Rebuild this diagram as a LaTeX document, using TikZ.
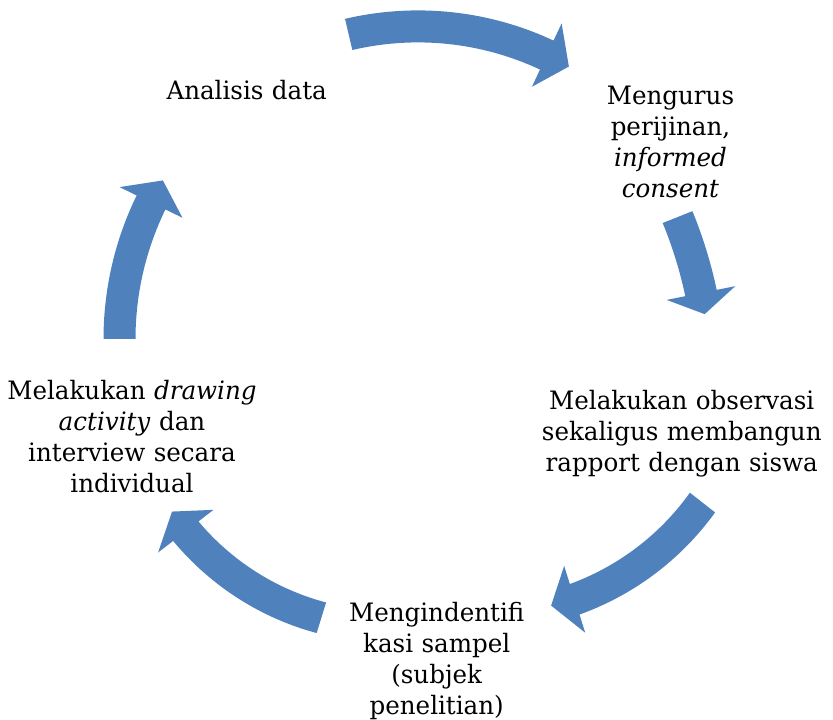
\documentclass[tikz,border=0pt]{standalone}
\usepackage{fontspec}
\newfontfamily\cam[FakeStretch=0.97]{DejaVu Serif}
\definecolor{arrowblue}{HTML}{4F81BD}
\tikzset{
  arrowfill/.style={fill=arrowblue},
  lbl/.style={inner sep=0pt, anchor=base, text width=225pt, align=center,
    font=\cam\fontsize{19}{23.25}\selectfont}
}
% #1,#2 centre; #3 radius at tail; #4 radius at head; #5 tail angle; #6 neck angle; #7 tip angle
\newcommand\cycarrow[7]{%
  \fill[arrowfill]
    plot[domain=#5:#6,samples=40]
      ({#1+((#3)+((#4)-(#3))*(\x-(#5))/((#6)-(#5))+16)*cos(\x)},
       {#2+((#3)+((#4)-(#3))*(\x-(#5))/((#6)-(#5))+16)*sin(\x)})
    -- ({#1+((#4)+35)*cos(#6)},{#2+((#4)+35)*sin(#6)})
    -- ({#1+(#4)*cos(#7)},{#2+(#4)*sin(#7)})
    -- ({#1+((#4)-35)*cos(#6)},{#2+((#4)-35)*sin(#6)})
    -- plot[domain=#6:#5,samples=40]
      ({#1+((#3)+((#4)-(#3))*(\x-(#5))/((#6)-(#5))-16)*cos(\x)},
       {#2+((#3)+((#4)-(#3))*(\x-(#5))/((#6)-(#5))-16)*sin(\x)})
    -- cycle;}
\begin{document}
\begin{tikzpicture}[x=0.75pt,y=-0.75pt]
\useasboundingbox (0,0) rectangle (833,720);
% arrows
\cycarrow{418}{330}{303.6}{303.6}{-103.2}{-64.9}{-60.2}
\cycarrow{270.7}{379}{437.9}{438.8}{-21.7}{-11.3}{-8.5}
\cycarrow{492.2}{337.7}{267.2}{274.3}{38.1}{72.5}{77.6}
\cycarrow{399}{367}{262.5}{269.1}{107.2}{142.4}{147.5}
\cycarrow{431}{339}{311.5}{311.5}{180}{206}{210.6}
% texts
\node[lbl] (analisis) at (246.7,99.3) {Analisis data};
\node[lbl] (mengurus) at (670.5,105) {Mengurus\\perijinan,\\\textit{informed}\\\textit{consent}};
\node[lbl] (observasi) at (681.8,409.3) {Melakukan observasi\\sekaligus membangun\\rapport dengan siswa};
\node[lbl] (sampel) at (436.7,621.7) {Mengindentifi\\kasi sampel\\(subjek\\penelitian)};
\node[lbl] (drawing) at (132,399.3) {Melakukan \textit{drawing}\\\textit{activity} dan\\interview secara\\individual};
\end{tikzpicture}
\end{document}
